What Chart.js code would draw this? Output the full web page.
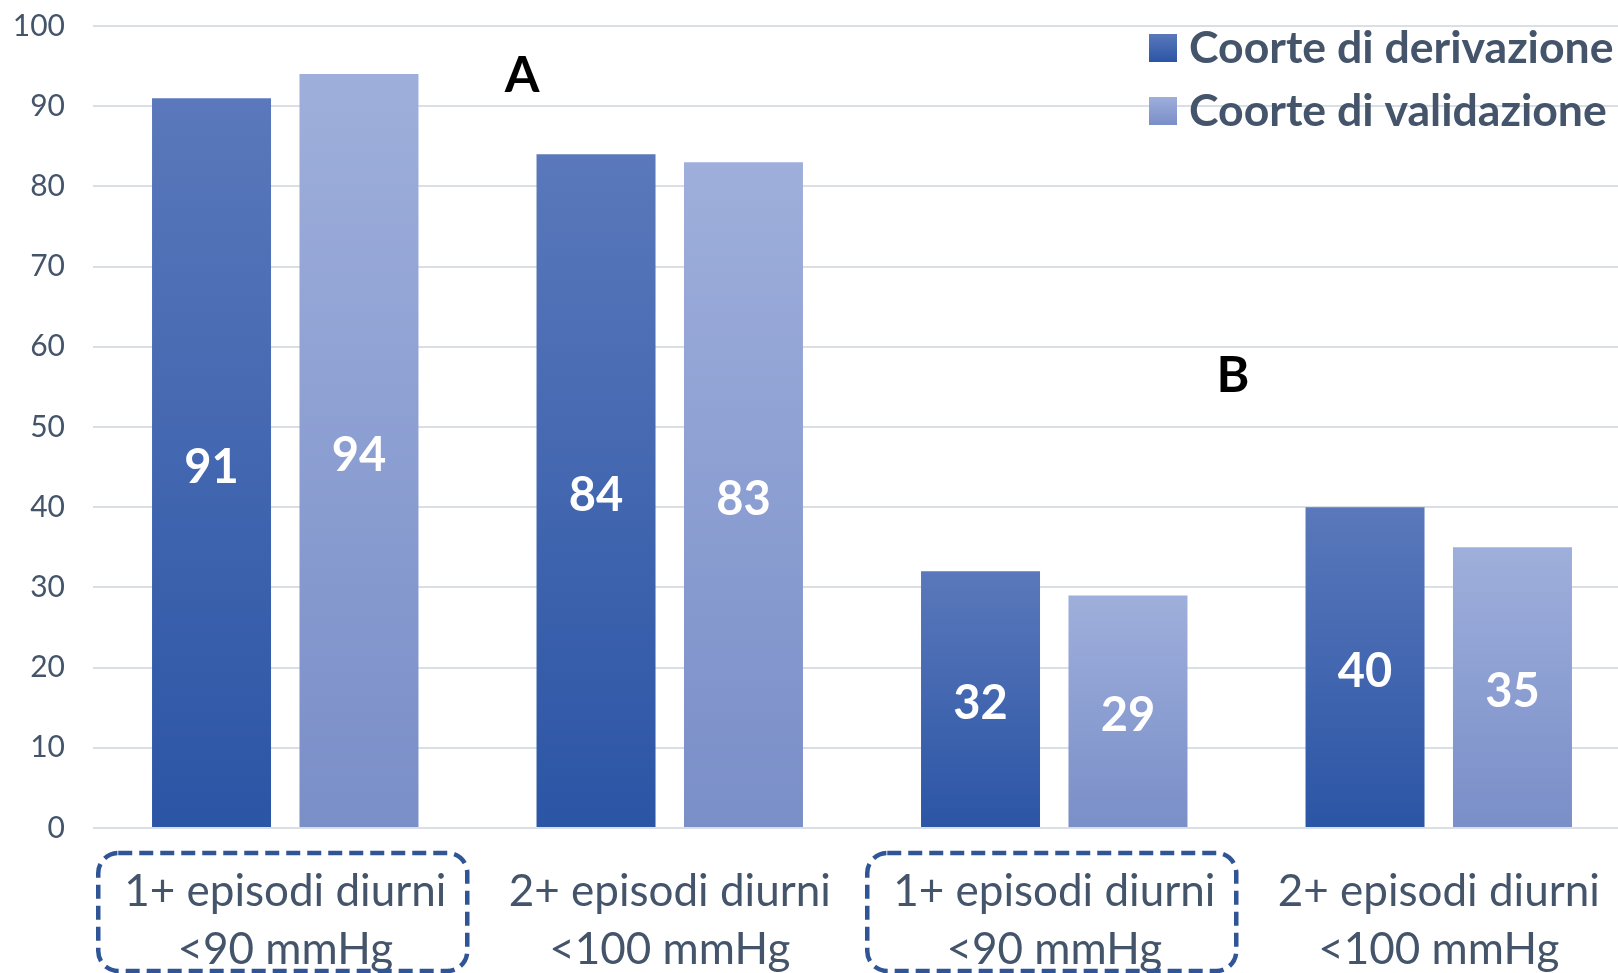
<!DOCTYPE html>
<html>
<head>
<meta charset="utf-8">
<script src="https://cdn.jsdelivr.net/npm/chart.js@4/dist/chart.umd.min.js"></script>
<style>
  html, body { margin: 0; padding: 0; background: #fff; overflow: hidden; }
  /* the plot area runs slightly past the right edge, as in the original */
  #wrap { width: 1618px; height: 973px; overflow: hidden; }
</style>
</head>
<body>
<div id="wrap"><canvas id="chart" width="1631" height="973"></canvas></div>
<script>
// categories and series
const categories = [
  ['1+ episodi diurni', '<90 mmHg'],
  ['2+ episodi diurni', '<100 mmHg'],
  ['1+ episodi diurni', '<90 mmHg'],
  ['2+ episodi diurni', '<100 mmHg']
];
const derivazione = [91, 84, 32, 40];
const validazione = [94, 83, 29, 35];
const seriesNames = ['Coorte di derivazione', 'Coorte di validazione'];
const boxedCategories = [0, 2];   // dashed frame around these labels
const panelLetters = ['A', 'B'];

const TEXT = '#44546A';
const FONT = 'Lato, "Open Sans", sans-serif';
const darkStops = ['#5A78BB', '#2B55A5'];
const lightStops = ['#9EAFDB', '#7A8EC8'];

function barGradient(stops) {
  return (ctx) => {
    const chart = ctx.chart;
    if (!chart.chartArea || ctx.raw == null) return stops[1];
    const y = chart.scales.y;
    const top = y.getPixelForValue(ctx.raw);
    const bot = y.getPixelForValue(0);
    const g = chart.ctx.createLinearGradient(0, top, 0, bot);
    g.addColorStop(0, stops[0]);
    g.addColorStop(1, stops[1]);
    return g;
  };
}

// values inside bars, dashed frames, letters and legend
const extras = {
  id: 'extras',
  afterDatasetsDraw(chart) {
    const c = chart.ctx;
    c.save();
    c.fillStyle = '#fff';
    c.font = 'bold 47px ' + FONT;
    c.textAlign = 'center';
    c.textBaseline = 'middle';
    chart.data.datasets.forEach((ds, i) => {
      chart.getDatasetMeta(i).data.forEach((bar, j) => {
        c.fillText(String(ds.data[j]), bar.x, (bar.y + bar.base) / 2 + 5);
      });
    });
    c.restore();
  },
  afterDraw(chart) {
    const c = chart.ctx;
    const x = chart.scales.x;
    c.save();

    // dashed rounded frames
    c.strokeStyle = '#2F5597';
    c.lineWidth = 4.5;
    c.setLineDash([14, 7]);
    boxedCategories.forEach(i => {
      const cx = x.getPixelForValue(i);
      c.beginPath();
      c.roundRect(cx - 187, 853, 369, 118, 20);
      c.stroke();
    });
    c.setLineDash([]);

    // panel letters
    c.fillStyle = '#000';
    c.font = 'bold 50px ' + FONT;
    c.textAlign = 'center';
    c.textBaseline = 'middle';
    c.fillText(panelLetters[0], 522, 76);
    c.fillText(panelLetters[1], 1233, 376);

    // legend
    const rows = [48, 111];
    const stops = [darkStops, lightStops];
    c.font = 'bold 44.6px ' + FONT;
    c.textAlign = 'left';
    seriesNames.forEach((name, i) => {
      const y0 = rows[i] - 14;
      const g = c.createLinearGradient(0, y0, 0, y0 + 28);
      g.addColorStop(0, stops[i][0]);
      g.addColorStop(1, stops[i][1]);
      c.fillStyle = g;
      c.fillRect(1149, y0, 28, 28);
      c.fillStyle = TEXT;
      c.fillText(name, 1189, rows[i] + 1);
    });
    c.restore();
  }
};

new Chart(document.getElementById('chart'), {
  type: 'bar',
  data: {
    labels: categories,
    datasets: [
      { label: seriesNames[0], data: derivazione, backgroundColor: barGradient(darkStops) },
      { label: seriesNames[1], data: validazione, backgroundColor: barGradient(lightStops) }
    ]
  },
  options: {
    responsive: false,
    animation: false,
    layout: { padding: { top: 26, right: 0, left: 0, bottom: 0 } },
    categoryPercentage: 0.767,
    barPercentage: 0.807,
    plugins: { legend: { display: false }, tooltip: { enabled: false } },
    scales: {
      x: {
        grid: { display: false },
        border: { display: false },
        ticks: {
          color: TEXT, font: { family: FONT, size: 44, lineHeight: 1.32 },
          padding: 27, maxRotation: 0, autoSkip: false
        },
        afterFit: (s) => { s.height = 145; }
      },
      y: {
        min: 0, max: 100,
        border: { display: false },
        grid: { color: '#DADFE6', lineWidth: 2, drawTicks: false },
        ticks: { stepSize: 10, color: TEXT, font: { family: FONT, size: 30 }, padding: 28 },
        afterFit: (s) => { s.width = 93; s.paddingTop = 0; s.paddingBottom = 0; }
      }
    }
  },
  plugins: [extras]
});
</script>
</body>
</html>
